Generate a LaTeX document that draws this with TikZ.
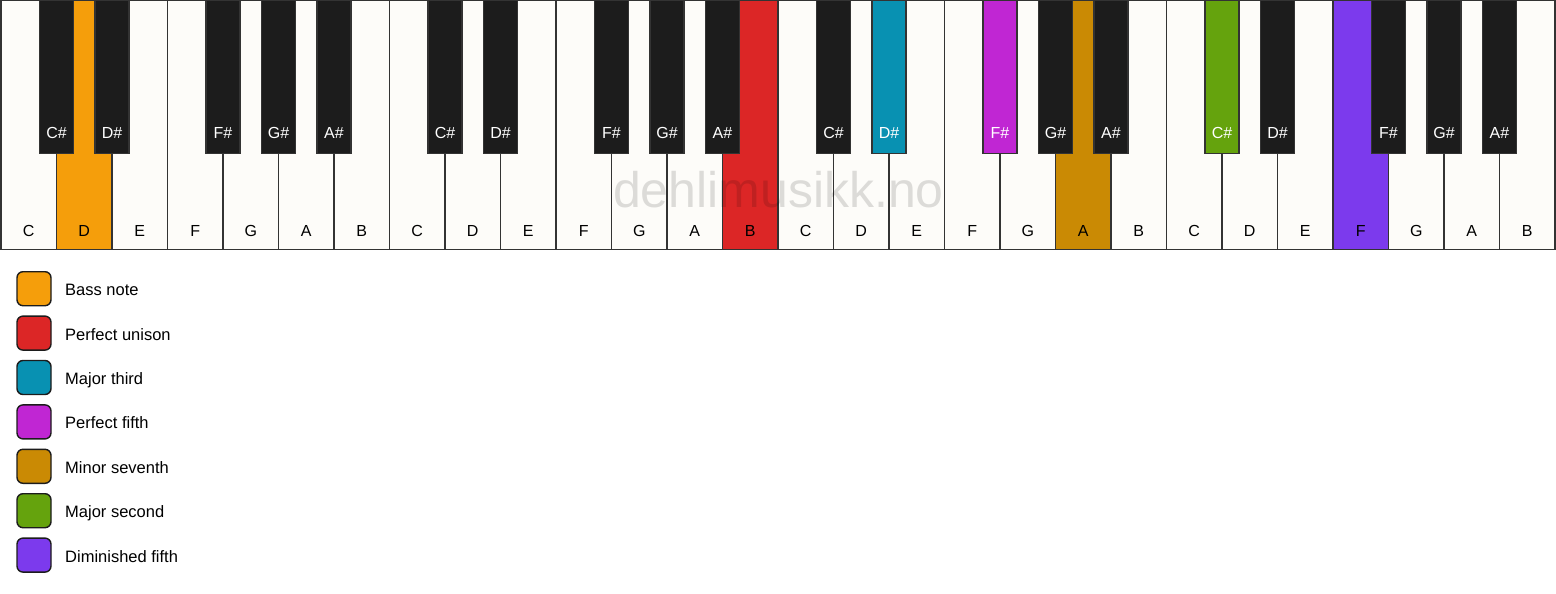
\documentclass[tikz,border=0pt]{standalone}
\usepackage{fontspec}
\setmainfont{Liberation Sans}
\definecolor{kw}{HTML}{FDFCF9}
\definecolor{kb}{HTML}{1C1C1C}
\definecolor{keyline}{HTML}{333333}
\definecolor{cOrange}{HTML}{F59E0B}
\definecolor{cRed}{HTML}{DC2626}
\definecolor{cTeal}{HTML}{0891B2}
\definecolor{cMagenta}{HTML}{C026D3}
\definecolor{cGold}{HTML}{CA8A04}
\definecolor{cGreen}{HTML}{65A30D}
\definecolor{cPurple}{HTML}{7C3AED}
\begin{document}
\begin{tikzpicture}[x=1pt,y=-1pt,
  wkey/.style={draw=keyline, line width=1.4pt, minimum width=55.5pt, minimum height=248.5pt, anchor=north west, inner sep=0pt, outer sep=0pt},
  bkey/.style={draw=keyline, line width=1.2pt, minimum width=34pt, minimum height=152.5pt, anchor=north, inner sep=0pt, outer sep=0pt},
  lbl/.style={font=\fontsize{16}{19}\selectfont, anchor=base, inner sep=0pt},
  legbox/.style={draw=kb, line width=1.4pt, rounded corners=6pt, minimum width=34pt, minimum height=34pt, inner sep=0pt},
  legtext/.style={font=\fontsize{16.5}{19}\selectfont, anchor=base west, inner sep=0pt}]
\useasboundingbox (0,0) rectangle (1556,594);
\fill[white] (0,0) rectangle (1556,594);
% white keys
\foreach \i/\n/\f in {0/C/kw,1/D/cOrange,2/E/kw,3/F/kw,4/G/kw,5/A/kw,6/B/kw,
  7/C/kw,8/D/kw,9/E/kw,10/F/kw,11/G/kw,12/A/kw,13/B/cRed,
  14/C/kw,15/D/kw,16/E/kw,17/F/kw,18/G/kw,19/A/cGold,20/B/kw,
  21/C/kw,22/D/kw,23/E/kw,24/F/cPurple,25/G/kw,26/A/kw,27/B/kw}
{
  \node[wkey, fill=\f] (w\i) at ({1+\i*55.5},0.7) {};
  \node[lbl] (wl\i) at ({1+(\i+0.5)*55.5},236) {\n};
}
% black keys
\foreach \b/\n/\f in {1/C\#/kb,2/D\#/kb,4/F\#/kb,5/G\#/kb,6/A\#/kb,
  8/C\#/kb,9/D\#/kb,11/F\#/kb,12/G\#/kb,13/A\#/kb,
  15/C\#/kb,16/D\#/cTeal,18/F\#/cMagenta,19/G\#/kb,20/A\#/kb,
  22/C\#/cGreen,23/D\#/kb,25/F\#/kb,26/G\#/kb,27/A\#/kb}
{
  \node[bkey, fill=\f] (b\b) at ({1+\b*55.5},0.7) {};
  \node[lbl, text=white] (bl\b) at ({1+\b*55.5},138) {\n};
}
% watermark
\node[font=\fontsize{50}{60}\selectfont, text=black, text opacity=0.13, anchor=base, inner sep=0pt] (wm) at (778.5,207) {dehlimusikk.no};
% legend
\foreach \k/\c/\t in {0/cOrange/Bass note,1/cRed/Perfect unison,2/cTeal/Major third,3/cMagenta/Perfect fifth,4/cGold/Minor seventh,5/cGreen/Major second,6/cPurple/Diminished fifth}
{
  \node[legbox, fill=\c] (lb\k) at (34,{288.7+\k*44.4}) {};
  \node[legtext] (lt\k) at (65,{295.7+\k*44.4}) {\t};
}
\end{tikzpicture}
\end{document}
